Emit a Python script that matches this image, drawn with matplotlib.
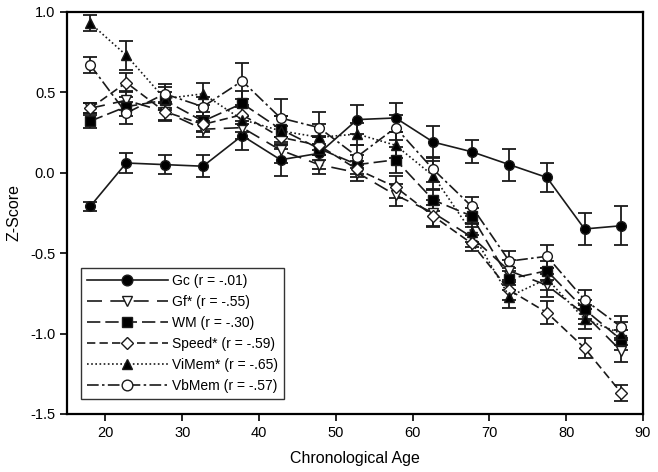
# z-score by age, six cognitive factors

import matplotlib
matplotlib.use("Agg")
import matplotlib.pyplot as plt

plt.rcParams['font.family'] = ['Liberation Sans', 'DejaVu Sans']

age = [18, 22.7, 27.7, 32.7, 37.8, 42.8, 47.8, 52.8, 57.8, 62.7, 67.7, 72.6, 77.5, 82.4, 87.2]

gc     = [-0.21, 0.06, 0.05, 0.04, 0.23, 0.08, 0.12, 0.33, 0.34, 0.19, 0.13, 0.05, -0.03, -0.35, -0.33]
gc_err = [0.03, 0.06, 0.06, 0.07, 0.09, 0.10, 0.10, 0.09, 0.09, 0.10, 0.07, 0.10, 0.09, 0.10, 0.12]

gf     = [0.40, 0.45, 0.38, 0.27, 0.28, 0.14, 0.05, 0.00, -0.14, -0.25, -0.40, -0.61, -0.70, -0.88, -1.11]
gf_err = [0.03, 0.06, 0.06, 0.05, 0.07, 0.08, 0.06, 0.05, 0.07, 0.08, 0.06, 0.07, 0.07, 0.06, 0.07]

wm     = [0.32, 0.41, 0.45, 0.32, 0.43, 0.27, 0.15, 0.05, 0.08, -0.17, -0.27, -0.66, -0.61, -0.85, -1.04]
wm_err = [0.04, 0.06, 0.05, 0.06, 0.08, 0.08, 0.07, 0.06, 0.08, 0.07, 0.05, 0.07, 0.06, 0.06, 0.06]

speed     = [0.40, 0.56, 0.38, 0.30, 0.36, 0.22, 0.17, 0.02, -0.09, -0.27, -0.44, -0.73, -0.87, -1.09, -1.37]
speed_err = [0.03, 0.06, 0.05, 0.05, 0.06, 0.07, 0.06, 0.05, 0.07, 0.07, 0.05, 0.06, 0.07, 0.06, 0.05]

vimem     = [0.93, 0.73, 0.46, 0.49, 0.33, 0.26, 0.22, 0.24, 0.17, -0.02, -0.37, -0.77, -0.66, -0.91, -1.00]
vimem_err = [0.05, 0.09, 0.07, 0.07, 0.08, 0.09, 0.08, 0.07, 0.08, 0.09, 0.06, 0.07, 0.07, 0.06, 0.07]

vbmem     = [0.67, 0.37, 0.49, 0.41, 0.57, 0.34, 0.28, 0.10, 0.28, 0.02, -0.21, -0.55, -0.52, -0.79, -0.96]
vbmem_err = [0.05, 0.07, 0.06, 0.06, 0.11, 0.12, 0.10, 0.07, 0.08, 0.08, 0.06, 0.06, 0.07, 0.06, 0.07]

labels = ["Gc (r = -.01)", "Gf* (r = -.55)", "WM (r = -.30)",
          "Speed* (r = -.59)", "ViMem* (r = -.65)", "VbMem (r = -.57)"]

series = [
    (gc, gc_err, 'o', 'black', '-'),
    (gf, gf_err, 'v', 'white', (0, (9, 5))),
    (wm, wm_err, 's', 'black', (0, (8, 3))),
    (speed, speed_err, 'D', 'white', (0, (5, 2.5))),
    (vimem, vimem_err, '^', 'black', (0, (1, 1.5))),
    (vbmem, vbmem_err, 'o', 'white', (0, (7, 2, 1.5, 2))),
]

fig = plt.figure(figsize=(6.58, 4.72), dpi=100)
ax = fig.add_axes([0.102, 0.123, 0.875, 0.852])

handles = []
for (y, e, m, fc, ls), lab in zip(series, labels):
    ax.errorbar(age, y, yerr=e, fmt='none', ecolor='#1a1a1a', elinewidth=1.3,
                capsize=5, capthick=1.3, zorder=2)
    ms = 6 if m == 'D' else 7
    h, = ax.plot(age, y, linestyle=ls, color='#1a1a1a', linewidth=1.2,
                 marker=m, markersize=ms, markerfacecolor=fc,
                 markeredgecolor='#1a1a1a', markeredgewidth=1.0, label=lab, zorder=3)
    handles.append(h)

ax.set_xlim(15, 90)
ax.set_ylim(-1.5, 1.0)
ax.set_xticks(range(20, 91, 10))
ax.set_yticks([-1.5, -1.0, -0.5, 0.0, 0.5, 1.0])
ax.set_yticklabels(['-1.5', '-1.0', '-0.5', '0.0', '0.5', '1.0'])
ax.tick_params(direction='out', length=5, width=1.2, labelsize=10.5, top=False, right=False)
for s in ax.spines.values():
    s.set_linewidth(1.6)

ax.set_xlabel("Chronological Age", fontsize=11.5, labelpad=8)
ax.set_ylabel("Z-Score", fontsize=11.5, labelpad=6)

leg = ax.legend(handles=handles, loc='lower left', bbox_to_anchor=(0.012, 0.02),
                fontsize=10, handlelength=5.8, frameon=True, fancybox=False,
                edgecolor='black', borderpad=0.45, labelspacing=0.5, handletextpad=0.3,
                markerscale=1.1)
leg.get_frame().set_linewidth(1.0)

fig.savefig("out.png", dpi=100)
